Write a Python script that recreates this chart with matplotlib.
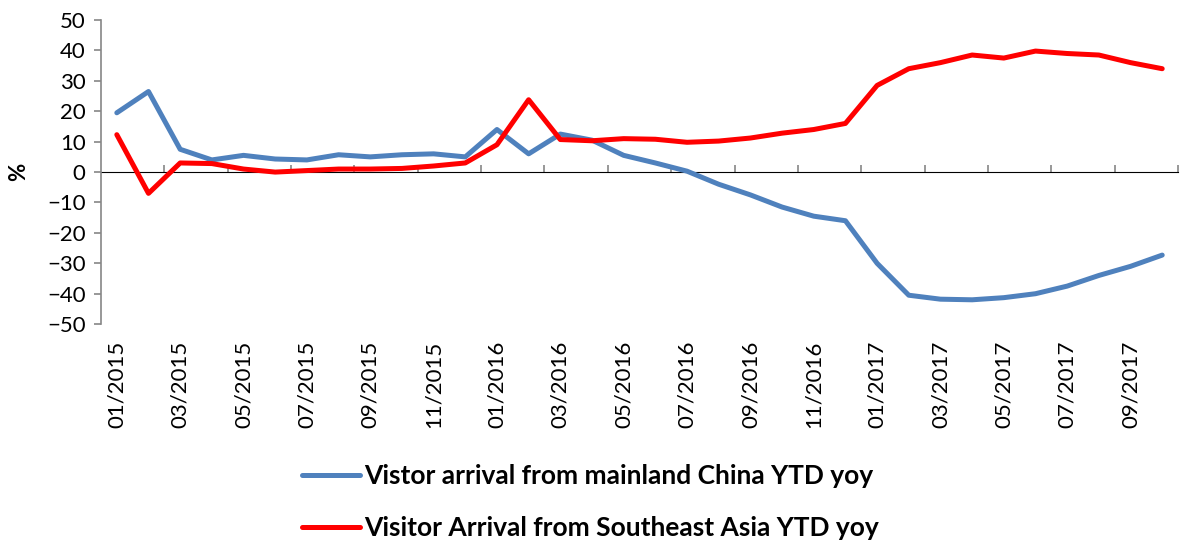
import numpy as np
import matplotlib
matplotlib.use('Agg')
import matplotlib.pyplot as plt

plt.rcParams['font.family'] = ['Lato', 'DejaVu Sans']

months = ['01/2015', '02/2015', '03/2015', '04/2015', '05/2015', '06/2015',
          '07/2015', '08/2015', '09/2015', '10/2015', '11/2015', '12/2015',
          '01/2016', '02/2016', '03/2016', '04/2016', '05/2016', '06/2016',
          '07/2016', '08/2016', '09/2016', '10/2016', '11/2016', '12/2016',
          '01/2017', '02/2017', '03/2017', '04/2017', '05/2017', '06/2017',
          '07/2017', '08/2017', '09/2017', '10/2017']

china = [19.5, 26.5, 7.5, 4.0, 5.5, 4.3, 4.0, 5.7, 5.0, 5.7, 6.0, 5.0,
         14.0, 6.0, 12.5, 10.5, 5.5, 3.0, 0.3, -4.0, -7.5, -11.5, -14.5, -16.0,
         -30.0, -40.5, -41.8, -42.0, -41.3, -40.0, -37.5, -34.0, -31.0, -27.3]

sea = [12.3, -7.0, 3.0, 2.8, 1.0, 0.0, 0.5, 1.0, 1.0, 1.2, 2.0, 3.0,
       9.0, 23.8, 10.7, 10.3, 11.0, 10.8, 9.8, 10.2, 11.2, 12.8, 14.0, 16.0,
       28.5, 34.0, 36.0, 38.5, 37.5, 39.8, 39.0, 38.5, 36.0, 34.0]

labels = ['Vistor arrival from mainland China YTD yoy',
          'Visitor Arrival from Southeast Asia YTD yoy']

grey = '#868686'
x = np.arange(len(months))

fig = plt.figure(figsize=(11.81, 5.42), dpi=100)
ax = fig.add_axes([0.0855, 0.402, 0.912, 0.561])

ax.plot(x, china, color='#4F81BD', lw=3.6, solid_capstyle='round', label=labels[0])
ax.plot(x, sea, color='#FF0000', lw=3.6, solid_capstyle='round', label=labels[1])

ax.set_xlim(-0.5, len(months) - 0.5)
ax.set_ylim(-50, 50)
ax.set_yticks(np.arange(-50, 51, 10))
ax.tick_params(axis='y', direction='out', length=5, width=1.2, color=grey,
               labelsize=16, pad=6)

# month labels at the bottom, no tick marks
ax.set_xticks(x[::2])
ax.set_xticklabels(months[::2], rotation=90, fontsize=16)
ax.tick_params(axis='x', length=0, pad=12)

for s in ['top', 'right', 'bottom']:
    ax.spines[s].set_visible(False)
ax.spines['left'].set_color(grey)
ax.spines['left'].set_linewidth(1.2)

# category axis crossing at zero
sec = ax.secondary_xaxis(0.5)
sec.set_xticks(np.arange(-0.5, len(months), 2)[1:])
sec.set_xticklabels([])
sec.tick_params(axis='x', direction='out', length=5, color=grey, width=1.2)
sec.spines['bottom'].set_color(grey)
sec.spines['bottom'].set_linewidth(1.2)

ax.set_ylabel('%', fontsize=16, fontweight='bold', labelpad=13)

fig.legend(loc='upper center', bbox_to_anchor=(0.5, 0.143),
           frameon=False, handlelength=2.2, handletextpad=0.15,
           labelspacing=1.05, prop={'size': 19, 'weight': 'bold'},
           borderaxespad=0, borderpad=0)

fig.savefig('out.png', dpi=100)
